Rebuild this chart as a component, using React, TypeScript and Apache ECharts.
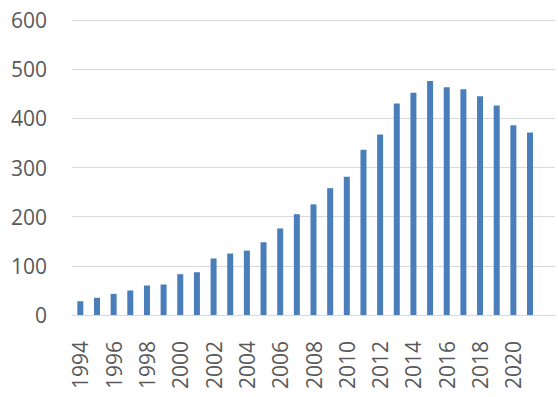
import React, { useEffect, useRef } from "react";
import * as echarts from "echarts";

const years: string[] = [
  "1994", "1995", "1996", "1997", "1998", "1999", "2000", "2001", "2002", "2003",
  "2004", "2005", "2006", "2007", "2008", "2009", "2010", "2011", "2012", "2013",
  "2014", "2015", "2016", "2017", "2018", "2019", "2020", "2021", "",
];

const values: (number | null)[] = [
  28, 35, 43, 50, 60, 62, 83, 87, 115, 125,
  131, 148, 176, 205, 225, 258, 281, 336, 367, 430,
  452, 476, 463, 459, 445, 426, 386, 371, null,
];

const yTicks = { min: 0, max: 600, interval: 100 };

export default function App() {
  const ref = useRef<HTMLDivElement>(null);
  useEffect(() => {
    if (!ref.current) return;
    const chart = echarts.init(ref.current, undefined, { renderer: "svg" });
    chart.setOption({
      animation: false,
      backgroundColor: "#ffffff",
      grid: { left: 72, right: 3, top: 20, bottom: 82, containLabel: false },
      xAxis: {
        type: "category",
        data: years,
        axisLine: { show: true, lineStyle: { color: "#d9d9d9", width: 1 } },
        axisTick: { show: false },
        axisLabel: {
          interval: 1,
          rotate: 90,
          margin: 26,
          color: "#595959",
          fontFamily: "Open Sans",
          fontSize: 21,
        },
      },
      yAxis: {
        type: "value",
        min: yTicks.min,
        max: yTicks.max,
        interval: yTicks.interval,
        axisLine: { show: false },
        axisTick: { show: false },
        splitLine: { lineStyle: { color: "#d9d9d9", width: 1 } },
        axisLabel: {
          margin: 25,
          color: "#595959",
          fontFamily: "Open Sans",
          fontSize: 21,
        },
      },
      series: [
        {
          type: "bar",
          data: values,
          barWidth: 6,
          itemStyle: { color: "#4a7ebb" },
        },
      ],
    });
    return () => chart.dispose();
  }, []);
  return (
    <div
      ref={ref}
      style={{ position: "fixed", left: 0, top: 0, width: 558, height: 397 }}
    />
  );
}
